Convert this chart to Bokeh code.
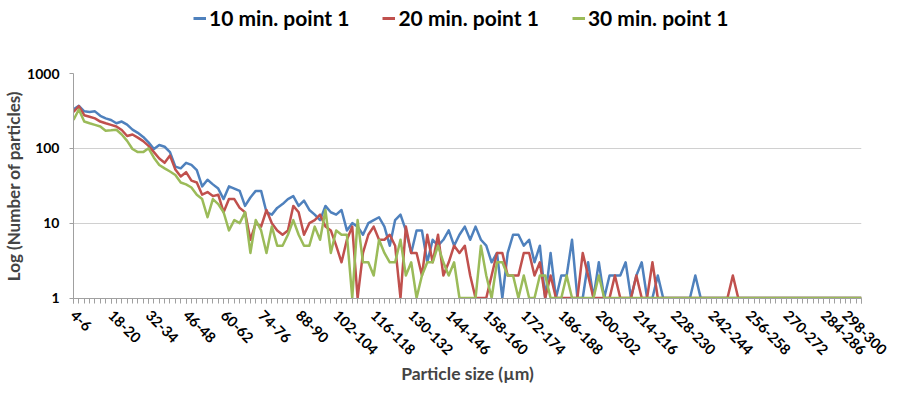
from math import pi
from bokeh.plotting import figure
from bokeh.layouts import column
from bokeh.models import FixedTicker, Legend, LegendItem, ColumnDataSource, Range1d
from bokeh.embed import file_html
from bokeh.resources import INLINE

# size bins of 2 µm: 4-6 ... 298-300
bins = [f"{a}-{a + 2}" for a in range(4, 300, 2)]
label_every = 7
tick_labels = {i: bins[i] for i in range(0, len(bins), label_every)}

series_names = ["10 min. point 1", "20 min. point 1", "30 min. point 1"]
colors = ["#4F81BD", "#C0504D", "#9BBB59"]

min10 = [
    330, 370, 312, 306, 312, 272, 251, 239, 216, 228,
    207, 178, 161, 142, 120, 98, 111, 105, 89, 57,
    54, 64, 60, 51, 31, 38, 33, 29, 21, 31,
    29, 27, 17, 22, 27, 27, 14, 13, 16, 18,
    21, 23, 17, 20, 15, 13, 11, 17, 14, 13,
    15, 8, 10, 9, 7, 10, 11, 12, 9, 5,
    11, 13, 8, 4, 8, 8, 3, 6, 5, 6,
    8, 5, 7, 9, 6, 9, 6, 5, 3, 4,
    1, 4, 7, 7, 5, 6, 3, 5, 1, 4,
    1, 2, 2, 6, 1, 1, 3, 1, 3, 1,
    2, 2, 2, 3, 1, 2, 3, 1, 1, 2,
    1, 1, 1, 1, 1, 1, 2, 1, 1, 1,
    1, 1, 1, 1, 1, 1, 1, 1, 1, 1,
    1, 1, 1, 1, 1, 1, 1, 1, 1, 1,
    1, 1, 1, 1, 1, 1, 1, 1,
]
min20 = [
    306, 366, 277, 264, 251, 228, 216, 206, 196, 176,
    146, 153, 139, 125, 108, 89, 73, 64, 80, 52,
    42, 48, 37, 35, 24, 26, 23, 24, 14, 21,
    21, 16, 14, 6, 10, 9, 15, 10, 8, 7,
    8, 17, 14, 7, 10, 11, 13, 9, 8, 5,
    3, 6, 9, 1, 4, 7, 9, 6, 6, 7,
    5, 1, 9, 4, 4, 2, 7, 3, 7, 2,
    3, 5, 4, 5, 2, 1, 1, 1, 2, 4,
    4, 2, 2, 2, 4, 4, 2, 3, 1, 2,
    1, 1, 1, 1, 1, 4, 2, 1, 1, 1,
    1, 2, 1, 1, 1, 2, 1, 1, 3, 1,
    1, 1, 1, 1, 1, 1, 1, 1, 1, 1,
    1, 1, 1, 2, 1, 1, 1, 1, 1, 1,
    1, 1, 1, 1, 1, 1, 1, 1, 1, 1,
    1, 1, 1, 1, 1, 1, 1, 1,
]
min30 = [
    239, 330, 228, 216, 206, 196, 172, 174, 177, 153,
    126, 98, 89, 89, 100, 75, 60, 54, 49, 44,
    35, 33, 30, 24, 21, 12, 21, 18, 14, 8,
    11, 10, 14, 4, 11, 8, 4, 9, 5, 5,
    7, 11, 7, 5, 5, 9, 6, 15, 4, 8,
    7, 7, 1, 11, 3, 3, 2, 6, 4, 3,
    3, 6, 2, 3, 1, 2, 3, 3, 5, 3,
    2, 3, 1, 1, 1, 1, 5, 2, 1, 3,
    3, 2, 2, 1, 2, 1, 1, 2, 2, 1,
    1, 1, 2, 1, 1, 1, 1, 1, 2, 1,
    1, 1, 1, 1, 1, 1, 1, 1, 1, 1,
    1, 1, 1, 1, 1, 1, 1, 1, 1, 1,
    1, 1, 1, 1, 1, 1, 1, 1, 1, 1,
    1, 1, 1, 1, 1, 1, 1, 1, 1, 1,
    1, 1, 1, 1, 1, 1, 1, 1,
]
y_ticks = [1, 10, 100, 1000]

FONT = "Lato"
n = len(bins)
xs = list(range(n))

# ---------- legend strip ----------
lg = figure(width=888, height=36, output_backend="svg", toolbar_location=None,
            x_range=Range1d(0, 1), y_range=Range1d(0, 1),
            x_axis_location=None, y_axis_location=None, min_border=0)
lg.outline_line_color = None
lg.grid.visible = False
leg_items = []
for name, col in zip(series_names, colors):
    # off-range points: only the legend swatch is visible
    r = lg.line(x=[-5, -4], y=[-5, -5], line_color=col, line_width=3)
    leg_items.append(LegendItem(label=name, renderers=[r]))
legend = Legend(
    items=leg_items, orientation="horizontal", location=(120, 6),
    glyph_width=13, glyph_height=20, label_height=20, label_standoff=3,
    spacing=33, padding=0, margin=0, border_line_color=None,
    background_fill_alpha=0,
    label_text_font=FONT, label_text_font_style="bold",
    label_text_font_size="21px", label_text_color="#000000",
)
lg.add_layout(legend, "center")

# ---------- main chart ----------
p = figure(width=888, height=350, output_backend="svg", toolbar_location=None,
           y_axis_type="log", x_range=(0, n - 1), y_range=(0.985, 1000),
           min_border_left=69, min_border_right=27, min_border_top=37,
           min_border_bottom=80)
p.outline_line_color = None
p.background_fill_color = "white"
p.border_fill_color = "white"

for name, vals, col in zip(series_names, [min10, min20, min30], colors):
    src = ColumnDataSource(dict(x=xs, y=vals))
    p.line("x", "y", source=src, line_color=col, line_width=2.5,
           line_join="round")

p.xgrid.grid_line_color = None
p.ygrid.ticker = FixedTicker(ticks=y_ticks)
p.ygrid.grid_line_color = "#D0D0D0"
p.ygrid.grid_line_width = 1.2

ya = p.yaxis[0]
ya.ticker = FixedTicker(ticks=y_ticks)
ya.major_label_overrides = {t: str(t) for t in y_ticks}
ya.axis_line_color = "#A0A0A0"
ya.major_tick_line_color = "#A0A0A0"
ya.major_tick_out = 4
ya.major_tick_in = 0
ya.minor_tick_line_color = None
ya.major_label_standoff = 10
ya.major_label_text_font = FONT
ya.major_label_text_font_style = "bold"
ya.major_label_text_font_size = "14px"
ya.major_label_text_color = "#000000"
ya.axis_label = "Log (Number of particles)"
ya.axis_label_text_font = FONT
ya.axis_label_text_font_style = "bold"
ya.axis_label_text_font_size = "17px"
ya.axis_label_standoff = 0

xa = p.xaxis[0]
xa.ticker = FixedTicker(ticks=list(tick_labels.keys()), minor_ticks=xs)
xa.major_label_overrides = tick_labels
xa.major_label_orientation = -pi / 4
xa.axis_line_color = "#A0A0A0"
xa.major_tick_line_color = "#A0A0A0"
xa.minor_tick_line_color = "#A0A0A0"
xa.major_tick_out = 5
xa.major_tick_in = 0
xa.minor_tick_out = 5
xa.minor_tick_in = 0
xa.major_label_standoff = 9
xa.major_label_text_font = FONT
xa.major_label_text_font_style = "bold"
xa.major_label_text_font_size = "14.5px"
xa.major_label_text_color = "#000000"
xa.axis_label = "Particle size (µm)"
xa.axis_label_text_font = FONT
xa.axis_label_text_font_style = "bold"
xa.axis_label_text_font_size = "17.5px"
xa.axis_label_standoff = 0

layout = column(lg, p, spacing=0)
open("out.html", "w").write(file_html(layout, INLINE))
